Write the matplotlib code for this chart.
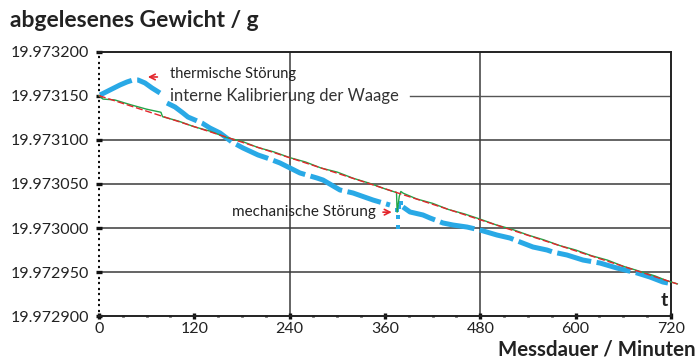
import numpy as np
import matplotlib
matplotlib.use("Agg")
import matplotlib.pyplot as plt
from matplotlib.ticker import MultipleLocator, FuncFormatter

plt.rcParams['font.family'] = ['Lato', 'DejaVu Sans']

BASE = 19.9729  # g, lower axis limit; series below are in micrograms above it

# Messwerte (blau), None = Lücke in der Aufzeichnung
blue_t = [1.3, 13.8, 26.4, 35.2, 42.8, 49.1, 57.9, 66.7, 76.8, None,
          85.6, 95.7, 105.7, 112.0, 129.6, 139.7, 152.3, 167.4, 181.3,
          200.1, 211.5, 227.8, 240.4, 253.0, 274.4, 282.0, 303.3, 319.7,
          344.9, 366.3, None, 382.6, 391.5, 407.8, 416.6, 433.0, 445.6,
          463.2, 479.6, 501.0, 517.3, 529.9, 546.3, 563.9, 571.4, 589.1,
          609.2, 630.6, 652.0, 677.2, 693.5, 709.9, 716.2]
blue_v = [251.1, 256.8, 262.5, 265.9, 268.2, 268.2, 264.8, 259.1, 253.4, None,
          242.0, 237.5, 230.7, 226.1, 219.3, 213.6, 208.0, 197.7, 190.9,
          183.0, 179.5, 173.9, 168.2, 162.5, 156.8, 154.5, 143.2, 139.8,
          131.8, 126.1, None, 123.9, 118.2, 114.8, 111.4, 105.7, 103.4,
          101.1, 97.7, 92.0, 88.6, 84.1, 78.4, 75.0, 72.7, 69.3,
          63.6, 60.2, 54.5, 48.9, 44.3, 38.6, 37.5]

# Einzelpunkte bei der mechanischen Störung
spike_t = [375.1, 376.3, 376.8, 380.0, 377.5]
spike_v = [120.5, 112.5, 101.0, 128.4, 124.0]

# gleitend korrigierte Werte (grün)
green_t = [0, 5, 20, 40, 60, 78, 80, 100, 120, 140, 160, 180, 200, 220, 240,
           260, 280, 300, 320, 340, 360, 372, 374.5, 375.3, 378, 380, 383, 400,
           420, 440, 460, 480, 500, 520, 540, 560, 580, 600, 620, 640, 660, 680,
           700, 715, 728]
green_v = [250.4, 246.5, 245.5, 240.0, 235.0, 231.5, 226.5, 221.5, 215.0, 210.0,
           203.0, 198.5, 191.5, 186.5, 180.0, 175.0, 168.0, 163.5, 156.5, 151.0,
           144.5, 141.0, 140.5, 118.0, 136.0, 141.5, 139.5, 133.0, 128.0, 121.0,
           116.0, 110.0, 103.5, 98.5, 92.0, 86.5, 80.0, 75.0, 68.5, 63.5, 56.5,
           51.0, 45.5, 40.0, 36.5]

# Ausgleichsgerade (rot)
red_t = [0, 728]
red_v = [250.4, 36.4]


def to_g(vals):
    return np.array([np.nan if v is None else BASE + v * 1e-6 for v in vals])


def to_t(vals):
    return np.array([np.nan if v is None else v for v in vals], dtype=float)


def g(v):
    return BASE + v * 1e-6


fig = plt.figure(figsize=(6.98, 3.6), dpi=100)
ax = fig.add_axes([0.1418, 0.1222, 0.8195, 0.7334])

ax.set_xlim(0, 720)
ax.set_ylim(19.9729, 19.9732)

# grid lines
for yv in [19.97295, 19.9730, 19.97305, 19.9731]:
    ax.axhline(yv, color='#3a3a3a', lw=1.1, zorder=1)
for xv in [240, 480]:
    ax.axvline(xv, color='#3a3a3a', lw=1.1, zorder=1)

ax.plot(to_t(blue_t), to_g(blue_v), color='#29a9e6', lw=3.6,
        dashes=(7, 1.1), zorder=3, clip_on=False)
ax.plot(spike_t, to_g(spike_v), 's', color='#29a9e6', ms=2.5, mew=0, zorder=3)
ax.plot(green_t, to_g(green_v), color='#22a548', lw=1.0, zorder=4, clip_on=False)
ax.plot(red_t, to_g(red_v), color='#e3262c', lw=1.0, dashes=(5, 2),
        zorder=5, clip_on=False)

# axes frame
ax.spines['left'].set_visible(False)
for s in ['top', 'right', 'bottom']:
    ax.spines[s].set_color('#222222')
    ax.spines[s].set_linewidth(1.4)

ax.xaxis.set_major_locator(MultipleLocator(120))
ax.xaxis.set_minor_locator(MultipleLocator(30))
ax.yaxis.set_major_locator(MultipleLocator(0.00005))
ax.yaxis.set_minor_locator(MultipleLocator(0.00005 / 8))
ax.yaxis.set_major_formatter(FuncFormatter(lambda v, p: f"{v:.6f}"))
ax.tick_params(axis='both', which='major', direction='inout', length=4,
               width=2.4, color='#111111', labelsize=11.5, labelcolor='#222222')
ax.tick_params(axis='both', which='minor', direction='inout', length=2,
               width=2, color='#111111')
ax.tick_params(axis='y', which='both', pad=5)
ax.tick_params(axis='x', which='major', pad=2)
ax.tick_params(axis='y', which='minor', length=1.6, width=1.6)

# annotations
ax.annotate('', xy=(58, g(271.6)), xytext=(77, g(271.6)),
            arrowprops=dict(arrowstyle='->', color='#e3262c', lw=1.2))
ax.text(89, g(275), 'thermische Störung', fontsize=10.5, color='#222222',
        va='center', ha='left')
ax.text(89, g(250), 'interne Kalibrierung der Waage', fontsize=12,
        color='#333333', va='center', ha='left')
ax.plot([391, 720], [g(250), g(250)], color='#555555', lw=1.0, zorder=1)
ax.text(168, g(118), 'mechanische Störung', fontsize=11, color='#222222',
        va='center', ha='left')
ax.annotate('', xy=(372, g(118)), xytext=(354, g(118)),
            arrowprops=dict(arrowstyle='->', color='#e3262c', lw=1.2))
ax.text(712, g(18), 't', fontsize=14, fontweight='bold', color='#222222',
        ha='center', va='center')

fig.text(0.014, 0.942, 'abgelesenes Gewicht / g', fontsize=16.5,
         fontweight='bold', color='#222222', ha='left', va='center')
fig.text(0.996, 0.028, 'Messdauer / Minuten', fontsize=14.8,
         fontweight='bold', color='#222222', ha='right', va='center')

fig.savefig('out.png', dpi=100)
